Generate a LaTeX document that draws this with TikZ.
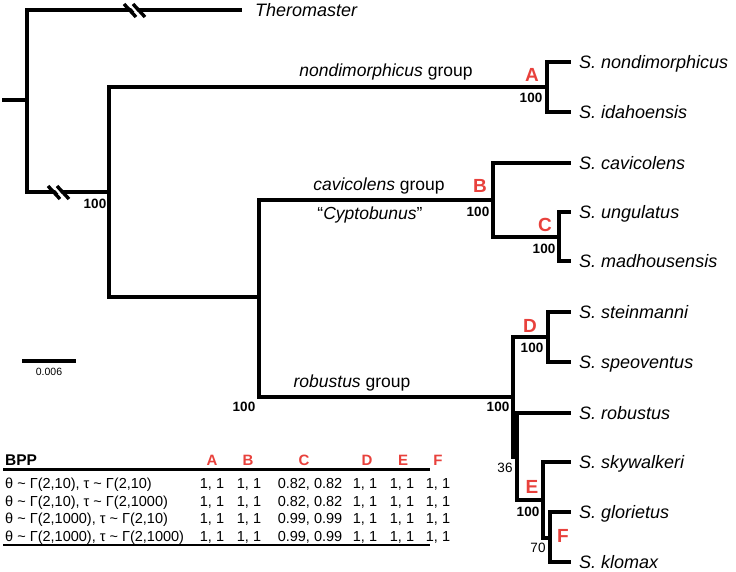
\documentclass[tikz,border=0pt]{standalone}
\usepackage{fontspec}
\setmainfont{Liberation Sans}
\definecolor{cladered}{RGB}{232,65,60}
\begin{document}
\begin{tikzpicture}[x=1pt,y=-1pt,
  br/.style={line width=4pt,line join=miter},
  tip/.style={anchor=base west,inner sep=0pt,font=\fontsize{18}{20}\selectfont\itshape},
  grp/.style={inner sep=0pt,font=\fontsize{17.5}{20}\selectfont},
  boot/.style={inner sep=0pt,font=\fontsize{13.5}{15}\selectfont\bfseries},
  bootn/.style={inner sep=0pt,font=\fontsize{13.5}{15}\selectfont},
  clade/.style={inner sep=0pt,text=cladered,font=\fontsize{19}{20}\selectfont\bfseries},
  brk/.style={line width=3.4pt},
  gap/.style={white,line width=2.4pt},
  tbl/.style={anchor=base west,inner sep=0pt,font=\fontsize{14.5}{16}\selectfont},
  val/.style={anchor=base,inner sep=0pt,font=\fontsize{14.5}{16}\selectfont},
  hdr/.style={anchor=base,inner sep=0pt,text=cladered,font=\fontsize{15}{16}\selectfont\bfseries},
  rule/.style={line width=2.5pt}]
\useasboundingbox (0,0) rectangle (736,571);
% internal nodes
\coordinate (stub) at (2,100);
\coordinate (root) at (27,100);
\coordinate (n1) at (109,192);
\coordinate (n2) at (259,297);
\coordinate (A) at (547,87);
\coordinate (B) at (493,200);
\coordinate (C) at (559,237);
\coordinate (R) at (513,397);
\coordinate (D) at (548,337);
\coordinate (R2) at (517,457);
\coordinate (E) at (543,500);
\coordinate (F) at (550,538);
% tips
\coordinate (ther) at (242,10);
\coordinate (nond) at (571,62);
\coordinate (ida) at (571,112);
\coordinate (cav) at (571,163);
\coordinate (ung) at (571,212);
\coordinate (mad) at (571,261);
\coordinate (stein) at (571,312);
\coordinate (speo) at (571,362);
\coordinate (rob) at (571,413);
\coordinate (sky) at (571,462);
\coordinate (glor) at (571,512);
\coordinate (klo) at (571,562);
% branches
\draw[br] (stub) -- (root);
\draw[br] (root) |- (ther);
\draw[br] (root) |- (n1);
\draw[br] (n1) |- (A);
\draw[br] (n1) |- (n2);
\draw[br] (A) |- (nond);
\draw[br] (A) |- (ida);
\draw[br] (n2) |- (B);
\draw[br] (n2) |- (R);
\draw[br] (B) |- (cav);
\draw[br] (B) |- (C);
\draw[br] (C) |- (ung);
\draw[br] (C) |- (mad);
\draw[br] (R) |- (D);
\draw[br] (R) |- (R2);
\draw[br] (D) |- (stein);
\draw[br] (D) |- (speo);
\draw[br] (R2) |- (rob);
\draw[br] (R2) |- (E);
\draw[br] (E) |- (sky);
\draw[br] (E) |- (F);
\draw[br] (F) |- (glor);
\draw[br] (F) |- (klo);
% break marks
\draw[gap] (128.5,3) -- (141.5,18);
\draw[brk] (124,4) -- (136,17);
\draw[brk] (133,4) -- (145,17);
\draw[gap] (52.5,185) -- (65.5,200);
\draw[brk] (48,186) -- (60,199);
\draw[brk] (57,186) -- (69,199);
% tip labels
\node[tip] (lther) at (255,16.5) {Theromaster};
\node[tip] (lnond) at (579,68.5) {S. nondimorphicus};
\node[tip] (lida) at (579,118.5) {S. idahoensis};
\node[tip] (lcav) at (579,169.5) {S. cavicolens};
\node[tip] (lung) at (579,218.5) {S. ungulatus};
\node[tip] (lmad) at (579,267.5) {S. madhousensis};
\node[tip] (lstein) at (579,318.5) {S. steinmanni};
\node[tip] (lspeo) at (579,368.5) {S. speoventus};
\node[tip] (lrob) at (579,419.5) {S. robustus};
\node[tip] (lsky) at (579,468.5) {S. skywalkeri};
\node[tip] (lglor) at (579,518.5) {S. glorietus};
\node[tip] (lklo) at (579,568.5) {S. klomax};
% group labels
\node[grp] (gnond) at (386,72) {\itshape nondimorphicus\upshape{} group};
\node[grp] (gcav) at (379,186) {\itshape cavicolens\upshape{} group};
\node[grp] (gcyp) at (370,215) {“\itshape Cyptobunus\upshape”};
\node[grp] (grob) at (352,383) {\itshape robustus\upshape{} group};
% clade letters
\node[clade] (cA) at (532,75) {A};
\node[clade] (cB) at (480,186) {B};
\node[clade] (cC) at (545,225) {C};
\node[clade] (cD) at (530,326) {D};
\node[clade] (cE) at (532,487) {E};
\node[clade] (cF) at (563,536) {F};
% support values
\node[boot] (bA) at (531,98) {100};
\node[boot] (bn1) at (95,204) {100};
\node[boot] (bn2) at (244,407) {100};
\node[boot] (bB) at (478,212) {100};
\node[boot] (bC) at (544,249) {100};
\node[boot] (bR) at (498,407) {100};
\node[boot] (bD) at (532,348) {100};
\node[bootn] (bR2) at (505,468) {36};
\node[boot] (bE) at (528,512) {100};
\node[bootn] (bF) at (538,548) {70};
% scale bar
\coordinate (sb1) at (22,361);
\coordinate (sb2) at (76,361);
\draw[line width=4pt] (sb1) -- (sb2);
\node[inner sep=0pt,font=\fontsize{10.5}{12}\selectfont] (sbl) at (49,372) {0.006};
% table
\node[tbl,font=\fontsize{15.5}{16}\selectfont\bfseries] (hBPP) at (5,465) {BPP};
\node[hdr] (hA) at (212,465) {A};
\node[hdr] (hB) at (248,465) {B};
\node[hdr] (hC) at (304,465) {C};
\node[hdr] (hD) at (367,465) {D};
\node[hdr] (hE) at (403,465) {E};
\node[hdr] (hF) at (438,465) {F};
\coordinate (r1a) at (3,469.5);
\coordinate (r1b) at (430,469.5);
\coordinate (r2a) at (3,545);
\coordinate (r2b) at (430,545);
\draw[rule] (r1a) -- (r1b);
\draw[rule] (r2a) -- (r2b);
\node[tbl] (t1) at (5,488) {θ \textasciitilde{} Γ(2,10), τ \textasciitilde{} Γ(2,10)};
\node[tbl] (t2) at (5,506.5) {θ \textasciitilde{} Γ(2,10), τ \textasciitilde{} Γ(2,1000)};
\node[tbl] (t3) at (5,523.5) {θ \textasciitilde{} Γ(2,1000), τ \textasciitilde{} Γ(2,10)};
\node[tbl] (t4) at (5,541.5) {θ \textasciitilde{} Γ(2,1000), τ \textasciitilde{} Γ(2,1000)};
\foreach \yy/\cc [count=\i] in {488/0.82, 506.5/0.82, 523.5/0.99, 541.5/0.99} {
  \node[val] (vA\i) at (212,\yy) {1, 1};
  \node[val] (vB\i) at (249,\yy) {1, 1};
  \node[val] (vC\i) at (310,\yy) {\cc, \cc};
  \node[val] (vD\i) at (365,\yy) {1, 1};
  \node[val] (vE\i) at (402,\yy) {1, 1};
  \node[val] (vF\i) at (438,\yy) {1, 1};
}
\end{tikzpicture}
\end{document}
